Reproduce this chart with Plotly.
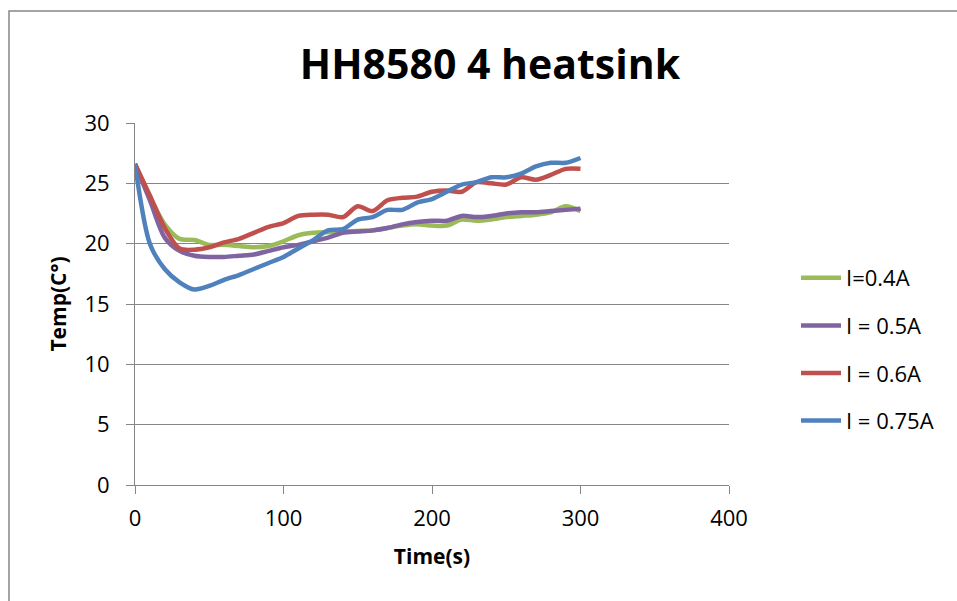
import plotly.graph_objects as go

# Sampling times (s)
time_s = [0, 10, 20, 30, 40, 50, 60, 70, 80, 90, 100, 110, 120, 130, 140, 150,
          160, 170, 180, 190, 200, 210, 220, 230, 240, 250, 260, 270, 280, 290, 300]

# Heatsink temperature (°C) for each drive current
temp_04 = [26.6, 23.9, 21.6, 20.4, 20.3, 19.9, 19.9, 19.8, 19.7, 19.8, 20.2, 20.7,
           20.9, 20.95, 21.0, 21.05, 21.1, 21.3, 21.5, 21.6, 21.5, 21.5, 22.0, 21.9,
           22.0, 22.2, 22.3, 22.4, 22.6, 23.1, 22.7]
temp_05 = [26.6, 23.6, 20.5, 19.4, 19.0, 18.9, 18.9, 19.0, 19.1, 19.4, 19.7, 19.9,
           20.2, 20.5, 20.9, 21.0, 21.1, 21.3, 21.6, 21.8, 21.9, 21.9, 22.3, 22.2,
           22.3, 22.5, 22.6, 22.6, 22.7, 22.8, 22.9]
temp_06 = [26.6, 24.0, 21.3, 19.6, 19.5, 19.7, 20.1, 20.4, 20.9, 21.4, 21.7, 22.3,
           22.4, 22.4, 22.2, 23.1, 22.7, 23.6, 23.8, 23.9, 24.3, 24.4, 24.3, 25.1,
           25.0, 24.9, 25.5, 25.3, 25.7, 26.2, 26.2]
temp_075 = [26.6, 20.0, 17.9, 16.8, 16.2, 16.5, 17.0, 17.4, 17.9, 18.4, 18.9, 19.6,
            20.3, 21.1, 21.2, 22.0, 22.2, 22.8, 22.8, 23.4, 23.7, 24.3, 24.9, 25.1,
            25.5, 25.5, 25.8, 26.4, 26.7, 26.7, 27.1]

series_names = ["I=0.4A", "I = 0.5A", "I = 0.6A", "I = 0.75A"]
series_values = [temp_04, temp_05, temp_06, temp_075]
series_colors = ["#9BBB59", "#8064A2", "#C0504D", "#4F81BD"]

x_ticks = [0, 100, 200, 300, 400]
y_ticks = [0, 5, 10, 15, 20, 25, 30]

FONT = "Open Sans, Liberation Sans, Arial, sans-serif"

fig = go.Figure()
for i, (name, vals, col) in enumerate(zip(series_names, series_values, series_colors)):
    fig.add_trace(go.Scatter(
        x=time_s, y=vals, name=name, mode="lines",
        line=dict(color=col, width=4.5, shape="spline", smoothing=0.8),
        legendgroup=f"g{i}",
    ))

W, H = 957, 601
ml, mr, mt, mb = 135, 228, 123, 116
pw, ph = W - ml - mr, H - mt - mb

def px_x(p):
    return (p - ml) / pw

def px_y(p):
    return (H - mb - p) / ph

fig.update_layout(
    width=W, height=H,
    margin=dict(l=ml, r=mr, t=mt, b=mb),
    paper_bgcolor="white", plot_bgcolor="white",
    font=dict(family=FONT, size=22, color="black"),
    title=dict(
        text="<b>HH8580 4 heatsink</b>",
        font=dict(family=FONT, size=41, color="black"),
        x=px_x(490), xref="paper", xanchor="center",
        y=1 - 65 / H, yref="container", yanchor="middle",
    ),
    xaxis=dict(
        range=[0, 400], tickvals=x_ticks, ticks="outside", ticklen=8,
        tickcolor="#868686", showline=True, linecolor="#868686", linewidth=1,
        showgrid=False, zeroline=False, ticklabelstandoff=6,
        tickfont=dict(size=22, color="black"),
        title=dict(text="<b>Time(s)</b>", font=dict(size=21, color="black"), standoff=17),
    ),
    yaxis=dict(
        range=[0, 30], tickvals=y_ticks, ticks="outside", ticklen=8,
        tickcolor="#868686", showline=True, linecolor="#868686", linewidth=1,
        showgrid=True, gridcolor="#868686", gridwidth=1, zeroline=False,
        ticklabelstandoff=12,
        tickfont=dict(size=22, color="black"),
        title=dict(text="<b>Temp(C°)</b>", font=dict(size=21, color="black"), standoff=12),
    ),
    legend=dict(
        x=px_x(796), y=px_y(257), xanchor="left", yanchor="top",
        font=dict(size=22, color="black"),
        traceorder="grouped", tracegroupgap=16, itemwidth=40,
        bgcolor="rgba(0,0,0,0)",
    ),
    showlegend=True,
)

# Outer chart frame
fig.add_shape(type="rect", xref="paper", yref="paper",
              x0=px_x(9), x1=px_x(970), y0=px_y(615), y1=px_y(11),
              line=dict(color="#868686", width=1.5), fillcolor="rgba(0,0,0,0)",
              layer="below")

fig.write_html("out.html")
